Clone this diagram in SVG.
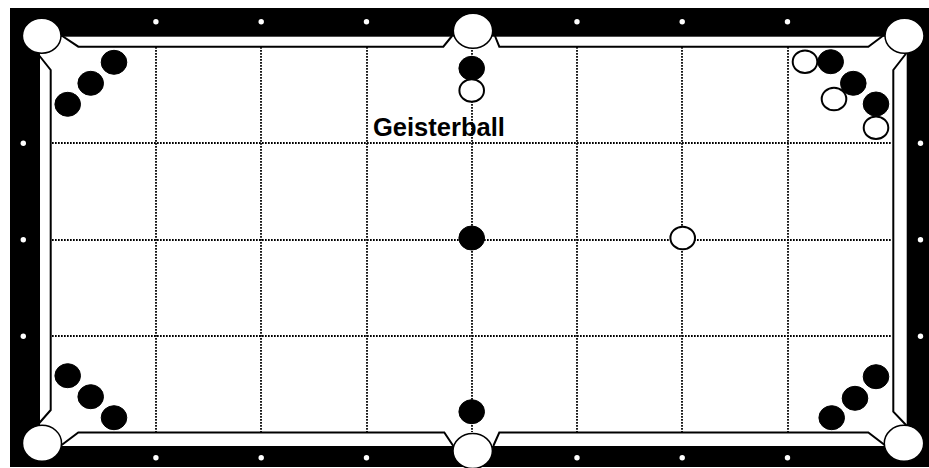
<svg xmlns="http://www.w3.org/2000/svg" width="929" height="468" viewBox="0 0 929 468">
<style>
.cush{fill:none;stroke:#000;stroke-width:2;stroke-linejoin:miter}
.grid{fill:none;stroke:#000;stroke-width:1.8;stroke-dasharray:1.7 1.3}
.pocket{fill:#fff;stroke:#000;stroke-width:1.5}
.bb{fill:#000;stroke:#000;stroke-width:1}
.wb{fill:#fff;stroke:#000;stroke-width:2}
.dia{fill:#fff}
.lbl{font-family:"Liberation Sans",Arial,sans-serif;font-weight:bold;font-size:25.5px;fill:#000}
</style>
<rect width="929" height="468" fill="#fff"/>
<g id="table">
<rect x="10" y="8" width="919" height="459" fill="#000"/>
<rect x="40" y="36.7" width="866.7" height="409.3" fill="#fff"/>
</g>
<g id="label">
<text class="lbl" x="373" y="136">Geisterball</text>
</g>
<g id="connectors">
<path class="cush" d="M60.8,35 L78.3,46.7 L443.3,46.7 L452,36"/>
<path class="cush" d="M495,36 L499.3,46.7 L868.3,46.7 L884,35"/>
<path class="cush" d="M906.5,53 L893.3,70 L893.3,411.7 L906.5,425.5"/>
<path class="cush" d="M886,446 L868.3,432.5 L499.3,432.5 L493.3,446"/>
<path class="cush" d="M453.3,446 L444.3,432.5 L78.3,432.5 L60,446.3"/>
<path class="cush" d="M38,424.5 L50.7,410 L50.7,70 L38,54"/>
<g id="grid">
<line class="grid" x1="156" y1="47" x2="156" y2="432"/>
<line class="grid" x1="261" y1="47" x2="261" y2="432"/>
<line class="grid" x1="367" y1="47" x2="367" y2="432"/>
<line class="grid" x1="472" y1="47" x2="472" y2="432"/>
<line class="grid" x1="577" y1="47" x2="577" y2="432"/>
<line class="grid" x1="682" y1="47" x2="682" y2="432"/>
<line class="grid" x1="788" y1="47" x2="788" y2="432"/>
<line class="grid" x1="52" y1="143" x2="892" y2="143"/>
<line class="grid" x1="52" y1="240" x2="892" y2="240"/>
<line class="grid" x1="52" y1="336" x2="892" y2="336"/>
</g>
</g>
<g id="pockets">
<ellipse id="pocket-tl" class="pocket" cx="41.7" cy="35.8" rx="19.3" ry="17.5"/>
<ellipse id="pocket-tm" class="pocket" cx="473" cy="30.8" rx="19.7" ry="17.5"/>
<ellipse id="pocket-tr" class="pocket" cx="904.5" cy="35.8" rx="19.5" ry="17.5"/>
<ellipse id="pocket-bl" class="pocket" cx="42" cy="443.3" rx="19.5" ry="18"/>
<ellipse id="pocket-bm" class="pocket" cx="472.7" cy="451" rx="19.7" ry="17.5"/>
<ellipse id="pocket-br" class="pocket" cx="904" cy="443.3" rx="19.7" ry="18"/>
</g>
<g id="diamonds">
<circle class="dia" cx="155.9" cy="21.7" r="2.7"/>
<circle class="dia" cx="261.2" cy="21.7" r="2.7"/>
<circle class="dia" cx="366.5" cy="21.7" r="2.7"/>
<circle class="dia" cx="577" cy="21.7" r="2.7"/>
<circle class="dia" cx="682.2" cy="21.7" r="2.7"/>
<circle class="dia" cx="787.5" cy="21.7" r="2.7"/>
<circle class="dia" cx="155.9" cy="457.7" r="2.7"/>
<circle class="dia" cx="261.2" cy="457.7" r="2.7"/>
<circle class="dia" cx="366.5" cy="457.7" r="2.7"/>
<circle class="dia" cx="577" cy="457.7" r="2.7"/>
<circle class="dia" cx="682.2" cy="457.7" r="2.7"/>
<circle class="dia" cx="787.5" cy="457.7" r="2.7"/>
<circle class="dia" cx="23.3" cy="143.2" r="2.7"/>
<circle class="dia" cx="23.3" cy="239.7" r="2.7"/>
<circle class="dia" cx="23.3" cy="336.2" r="2.7"/>
<circle class="dia" cx="920.5" cy="143.2" r="2.7"/>
<circle class="dia" cx="920.5" cy="239.7" r="2.7"/>
<circle class="dia" cx="920.5" cy="336.2" r="2.7"/>
</g>
<g id="balls">
<ellipse id="b-tl1" class="bb" cx="114" cy="62.3" rx="12.8" ry="12"/>
<ellipse id="b-tl2" class="bb" cx="90.7" cy="83.3" rx="12.8" ry="12"/>
<ellipse id="b-tl3" class="bb" cx="67.7" cy="104.3" rx="12.8" ry="12"/>
<ellipse id="b-tm" class="bb" cx="471.7" cy="68.3" rx="12.8" ry="12"/>
<ellipse id="w-tm" class="wb" cx="471.7" cy="90.5" rx="12.3" ry="11.3"/>
<ellipse id="w-tr1" class="wb" cx="805" cy="61.7" rx="12.3" ry="11.3"/>
<ellipse id="b-tr1" class="bb" cx="830.7" cy="61.7" rx="12.8" ry="12"/>
<ellipse id="b-tr2" class="bb" cx="853.3" cy="83.3" rx="12.8" ry="12"/>
<ellipse id="w-tr2" class="wb" cx="834" cy="99" rx="12.3" ry="11.3"/>
<ellipse id="b-tr3" class="bb" cx="876" cy="104" rx="12.8" ry="12"/>
<ellipse id="w-tr3" class="wb" cx="876" cy="127.7" rx="12.3" ry="11.3"/>
<ellipse id="b-center" class="bb" cx="471.7" cy="238" rx="12.8" ry="12"/>
<ellipse id="w-center" class="wb" cx="682.7" cy="238" rx="12.3" ry="11.3"/>
<ellipse id="b-bl1" class="bb" cx="67.7" cy="375.7" rx="12.8" ry="12"/>
<ellipse id="b-bl2" class="bb" cx="90.7" cy="396.7" rx="12.8" ry="12"/>
<ellipse id="b-bl3" class="bb" cx="114" cy="417.7" rx="12.8" ry="12"/>
<ellipse id="b-bm" class="bb" cx="471.7" cy="411.7" rx="12.8" ry="12"/>
<ellipse id="b-br1" class="bb" cx="876" cy="376.7" rx="12.8" ry="12"/>
<ellipse id="b-br2" class="bb" cx="855" cy="398.3" rx="12.8" ry="12"/>
<ellipse id="b-br3" class="bb" cx="831.7" cy="417.7" rx="12.8" ry="12"/>
</g>
</svg>
